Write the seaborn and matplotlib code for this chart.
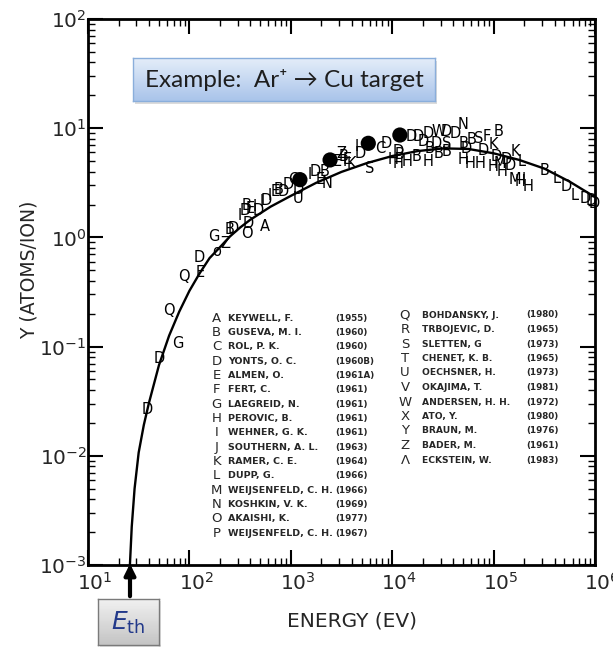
import numpy as np
import matplotlib
matplotlib.use("Agg")
import matplotlib.pyplot as plt
from matplotlib.colors import LinearSegmentedColormap
from matplotlib.patches import FancyArrowPatch, Rectangle
from matplotlib.transforms import ScaledTranslation
from matplotlib.ticker import FixedLocator, LogLocator, NullFormatter
import seaborn as sns

# ---- fitted yield curve, Ar+ on Cu (energy in eV, yield in atoms/ion) ----
curve_E = [25.9, 27.0, 28.8, 31.6, 35.5, 39.8, 50.1, 63.1, 79.4, 100, 126, 158,
           200, 251, 316, 398, 631, 1000, 1778, 3162, 5623, 10000, 17783,
           31623, 56234, 100000, 177828, 316228, 562341, 1000000]
curve_Y = [0.001, 0.00224, 0.00501, 0.0107, 0.0191, 0.0302, 0.0676, 0.126,
           0.209, 0.324, 0.468, 0.646, 0.813, 1.02, 1.23, 1.45, 1.91, 2.40,
           3.16, 3.98, 4.79, 5.56, 6.17, 6.53, 6.46, 5.89, 5.13, 4.27, 3.24,
           2.34]

# ---- large filled points ----
dot_E = [1230, 2440, 5810, 11900]
dot_Y = [3.38, 5.12, 7.27, 8.66]

# ---- measured yields, labelled by source letter ----
point_letters = [
    "D", "D", "G", "Q", "Q", "D", "E", "G", "o", "Z", "B", "D", "O", "D", "A",
    "I", "D", "E", "B", "I", "D", "I", "D", "I", "E", "B", "D", "D", "C", "U",
    "D", "I", "D", "E", "B", "N", "E", "Z", "I", "B", "E", "K", "I", "D", "S",
    "C", "D", "H", "H", "B", "D", "H", "D", "B", "D", "D", "H", "D", "B", "W",
    "D", "B", "D", "S", "B", "D", "H", "B", "N", "D", "B", "S", "F", "B", "H",
    "H", "D", "K", "H", "M", "D", "H", "D", "K", "D", "L", "M", "H", "H", "I",
    "B", "L", "D", "L", "D", "D", "D"]
point_E = [
    38.8, 51, 77, 63, 88, 125, 127, 175, 186, 224, 251, 271, 367, 381, 557,
    316, 353, 396, 367, 444, 478, 516, 578, 624, 698, 753, 843, 945, 1060, 1190,
    1190, 1550, 1730, 1940, 2170, 2260, 2840, 3180, 3430, 3300, 3560, 3990,
    4470, 4810, 6040,
    7580, 8830, 10250, 11480, 11940, 11480, 13900, 15560, 17460, 18080, 20270,
    22700, 22700, 23600, 28500,
    27500, 28500, 34400, 34400, 34400, 41600, 50200, 50200, 49600, 54300,
    60800, 70600, 85500, 111000, 58500,
    73400, 79100, 99300, 99300, 115600, 107400, 120200, 134700, 162600, 145200,
    189200, 162600, 182000, 219800, 196300,
    321000, 419000, 526000, 635000, 796000, 927000, 975000]
point_Y = [
    0.0267, 0.077, 0.106, 0.216, 0.434, 0.65, 0.48, 1.01, 0.75, 0.88, 1.17,
    1.21, 1.09, 1.35, 1.25,
    1.60, 1.78, 1.85, 1.98, 1.91, 1.78, 2.12, 2.20, 2.44, 2.62, 2.72, 2.62,
    3.02, 3.36, 2.28,
    2.72, 3.73, 4.00, 3.36, 4.00, 3.13, 4.93, 5.89, 4.93, 5.48, 5.12, 4.77,
    6.78, 5.89, 4.29,
    6.54, 7.27, 5.12, 4.77, 5.69, 6.09, 4.93, 8.36, 5.48, 8.36, 7.52, 4.93,
    8.98, 6.54, 9.29,
    7.27, 5.89, 9.29, 7.27, 6.09, 8.98, 5.12, 7.27, 10.7, 6.54, 7.80, 8.07,
    8.36, 9.29, 4.77,
    4.77, 6.31, 7.02, 4.44, 4.77, 5.48, 4.00, 5.12, 6.09, 4.60, 4.93, 3.36,
    3.24, 2.91, 3.36,
    4.14, 3.48, 2.91, 2.44, 2.28, 2.20, 2.05]

# ---- source key ----
key_left_letters = list("ABCDEFGHIJKLMNOP")
key_left_names = [
    "KEYWELL, F.", "GUSEVA, M. I.", "ROL, P. K.", "YONTS, O. C.", "ALMEN, O.",
    "FERT, C.", "LAEGREID, N.", "PEROVIC, B.", "WEHNER, G. K.",
    "SOUTHERN, A. L.", "RAMER, C. E.", "DUPP, G.", "WEIJSENFELD, C. H.",
    "KOSHKIN, V. K.", "AKAISHI, K.", "WEIJSENFELD, C. H."]
key_left_years = [
    "(1955)", "(1960)", "(1960)", "(1960B)", "(1961A)", "(1961)", "(1961)",
    "(1961)", "(1961)", "(1963)", "(1964)", "(1966)", "(1966)", "(1969)",
    "(1977)", "(1967)"]
key_right_letters = list("QRSTUVWXYZ") + ["\u039b"]
key_right_names = [
    "BOHDANSKY, J.", "TRBOJEVIC, D.", "SLETTEN, G", "CHENET, K. B.",
    "OECHSNER, H.", "OKAJIMA, T.", "ANDERSEN, H. H.", "ATO, Y.", "BRAUN, M.",
    "BADER, M.", "ECKSTEIN, W."]
key_right_years = [
    "(1980)", "(1965)", "(1973)", "(1965)", "(1973)", "(1981)", "(1972)",
    "(1980)", "(1976)", "(1961)", "(1983)"]

x_ticks = [1e1, 1e2, 1e3, 1e4, 1e5, 1e6]
x_tick_labels = [r"$10^{1}$", r"$10^{2}$", r"$10^{3}$", r"$10^{4}$",
                 r"$10^{5}$", r"$10^{6}$"]
y_ticks = [1e-3, 1e-2, 1e-1, 1e0, 1e1, 1e2]
y_tick_labels = [r"$10^{-3}$", r"$10^{-2}$", r"$10^{-1}$", r"$10^{0}$",
                 r"$10^{1}$", r"$10^{2}$"]

sns.set_style("ticks")
plt.rcParams["font.family"] = ["DejaVu Sans"]
plt.rcParams["mathtext.fontset"] = "dejavusans"

W, H = 613, 647
fig = plt.figure(figsize=(W / 100, H / 100), dpi=100)
fig.patch.set_facecolor("white")

L, R, T, B = 88, 595, 19, 565
ax = fig.add_axes([L / W, 1 - B / H, (R - L) / W, (B - T) / H])
ax.set_xscale("log")
ax.set_yscale("log")
ax.set_xlim(1e1, 1e6)
ax.set_ylim(1e-3, 1e2)

sns.lineplot(x=curve_E, y=curve_Y, ax=ax, color="black", linewidth=1.7,
             zorder=3)
sns.scatterplot(x=dot_E, y=dot_Y, ax=ax, color="black", s=120,
                edgecolor="none", zorder=5)
for ch, e, y in zip(point_letters, point_E, point_Y):
    ax.text(e, y, ch, ha="center", va="center", fontsize=10.5,
            color="black", zorder=4)

# axes frame and ticks
for sp in ax.spines.values():
    sp.set_linewidth(2)
    sp.set_color("black")
ax.xaxis.set_major_locator(FixedLocator(x_ticks))
ax.yaxis.set_major_locator(FixedLocator(y_ticks))
ax.xaxis.set_minor_locator(LogLocator(base=10, subs=np.arange(2, 10)))
ax.yaxis.set_minor_locator(LogLocator(base=10, subs=np.arange(2, 10)))
ax.xaxis.set_minor_formatter(NullFormatter())
ax.yaxis.set_minor_formatter(NullFormatter())
ax.set_xticklabels(x_tick_labels, fontsize=14.5)
ax.set_yticklabels(y_tick_labels, fontsize=14.5)
ax.tick_params(which="both", direction="in", top=True, right=True,
               color="black")
ax.tick_params(which="major", length=11, width=1.5, pad=5)
ax.tick_params(axis="y", which="major", pad=1)
ax.tick_params(which="minor", length=5, width=1)
shift = ScaledTranslation(7 / 100, 0, fig.dpi_scale_trans)
for lab in ax.get_xticklabels():
    lab.set_transform(lab.get_transform() + shift)

fig.text(352 / W, 1 - 621 / H, "ENERGY (EV)", ha="center", va="center",
         fontsize=14.5)
fig.text(29 / W, 1 - 270 / H, "Y (ATOMS/ION)", ha="center", va="center",
         rotation=90, fontsize=13.5)

# source key
def axf(px, py):
    return (px - L) / (R - L), (B - py) / (B - T)

for i, (ch, nm, yr) in enumerate(zip(key_left_letters, key_left_names,
                                     key_left_years)):
    py = 318.3 + i * 14.33
    ax.text(*axf(216.7, py), ch, transform=ax.transAxes, ha="center",
            va="center", fontsize=9.5)
    ax.text(*axf(228.3, py), nm, transform=ax.transAxes, ha="left",
            va="center", fontsize=6.8, fontweight="bold")
    ax.text(*axf(335, py), yr, transform=ax.transAxes, ha="left",
            va="center", fontsize=6.3, fontweight="bold")
for i, (ch, nm, yr) in enumerate(zip(key_right_letters, key_right_names,
                                     key_right_years)):
    py = 315 + i * 14.5
    ax.text(*axf(405, py), ch, transform=ax.transAxes, ha="center",
            va="center", fontsize=9.5)
    ax.text(*axf(421.7, py), nm, transform=ax.transAxes, ha="left",
            va="center", fontsize=6.6, fontweight="bold")
    ax.text(*axf(526.7, py), yr, transform=ax.transAxes, ha="left",
            va="center", fontsize=6.3, fontweight="bold")

# callout boxes with gradient fill
def gradient_box(x0, y0, x1, y1, top_col, bot_col, edge_col, z):
    bx = fig.add_axes([x0 / W, 1 - y1 / H, (x1 - x0) / W, (y1 - y0) / H],
                      zorder=z)
    cmap = LinearSegmentedColormap.from_list("g", [top_col, bot_col])
    bx.imshow(np.linspace(0, 1, 64).reshape(-1, 1), cmap=cmap, aspect="auto",
              extent=[0, 1, 1, 0])
    bx.set_xticks([])
    bx.set_yticks([])
    for sp in bx.spines.values():
        sp.set_color(edge_col)
        sp.set_linewidth(1.0)
    return bx

fig.add_artist(Rectangle((135 / W, 1 - 104 / H), 302 / W, 43 / H,
                         transform=fig.transFigure, facecolor="#9a9a9a",
                         alpha=0.35, edgecolor="none", zorder=4))
bx = gradient_box(133, 58, 435, 101, "#e4edf9", "#a9c4ea", "#8aaedb", 5)
bx.text(0.5, 0.48, "Example:  Ar\u207a \u2192 Cu target", ha="center",
        va="center", transform=bx.transAxes, fontsize=17.5, color="#1e1e1e",
        family=["Lato", "DejaVu Sans"])

fig.add_artist(Rectangle((100 / W, 1 - 647 / H), 61 / W, 46 / H,
                         transform=fig.transFigure, facecolor="#9a9a9a",
                         alpha=0.3, edgecolor="none", zorder=4))
ex = gradient_box(98, 599, 159, 645, "#f2f2f2", "#c4c4c4", "#7a7a7a", 5)
ex.text(0.5, 0.47, r"$E_{\mathrm{th}}$", ha="center", va="center",
        transform=ex.transAxes, fontsize=18, color="#22398a")

fig.add_artist(FancyArrowPatch((130 / W, 1 - 599 / H), (130 / W, 1 - 561 / H),
                               transform=fig.transFigure, arrowstyle="-|>",
                               mutation_scale=16, linewidth=3,
                               color="black", zorder=6))

fig.savefig("out.png", dpi=100, facecolor="white")
